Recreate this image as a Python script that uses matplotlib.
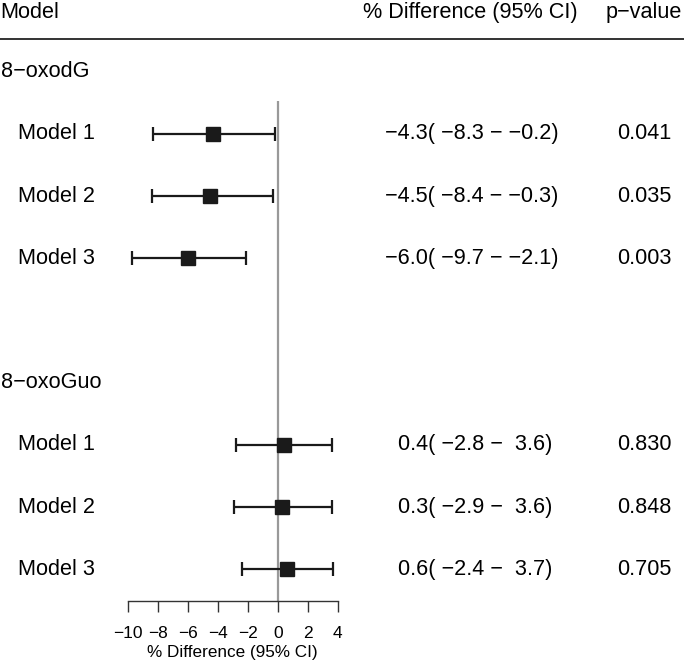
import matplotlib
matplotlib.use("Agg")
import matplotlib.pyplot as plt
import matplotlib.transforms as mtransforms

plt.rcParams['font.family'] = ['Liberation Sans', 'DejaVu Sans']

# ---- data ----
groups = ["8−oxodG", "8−oxoGuo"]
models = ["Model 1", "Model 2", "Model 3"]
est = [[-4.3, -4.5, -6.0], [0.4, 0.3, 0.6]]
lower = [[-8.3, -8.4, -9.7], [-2.8, -2.9, -2.4]]
upper = [[-0.2, -0.3, -2.1], [3.6, 3.6, 3.7]]
pvals = [["0.041", "0.035", "0.003"], ["0.830", "0.848", "0.705"]]
xticks = [-10, -8, -6, -4, -2, 0, 2, 4]
header = ["Model", "% Difference (95% CI)", "p−value"]
xlabel = "% Difference (95% CI)"

W, H = 684, 664
fig = plt.figure(figsize=(W / 100, H / 100), dpi=100)

def fx(px):
    return px / W

def fy(py):
    return 1 - py / H

# row k at pixel 9.5 + 62.2*k
p0, dp = 9.5, 62.2
top_px, bot_px = 101, 600.7
x_left_px, x_right_px = 127.7, 337.7
ax = fig.add_axes([fx(x_left_px), fy(bot_px), (x_right_px - x_left_px) / W,
                   (bot_px - top_px) / H])
ax.set_xlim(-10, 4)
ax.set_ylim((bot_px - p0) / dp, (top_px - p0) / dp)

for s in ["top", "right", "left"]:
    ax.spines[s].set_visible(False)
ax.spines["bottom"].set_color("#333333")
ax.spines["bottom"].set_linewidth(1.0)
ax.set_yticks([])
ax.set_xticks(xticks)
ax.set_xticklabels([str(t).replace("-", "−") for t in xticks])
ax.tick_params(axis="x", direction="out", length=8, width=1.0, color="#333333",
               pad=10, labelsize=12.5)
ax.set_xlabel(xlabel, fontsize=12.3, labelpad=3)

ax.axvline(0, color="#999999", lw=1.6, zorder=1)

blend = mtransforms.blended_transform_factory(fig.transFigure, ax.transData)
fs = 15.6

def rowpx(py):
    return (py - p0) / dp

# header
hy = rowpx(12.5)
ax.text(fx(0.5), hy, header[0], transform=blend, ha="left", va="center", fontsize=fs, clip_on=False)
ax.text(fx(470.5), hy, header[1], transform=blend, ha="center", va="center", fontsize=fs, clip_on=False)
ax.text(fx(644), hy, header[2], transform=blend, ha="center", va="center", fontsize=fs, clip_on=False)
ax.plot([0, 1], [rowpx(39)] * 2, transform=blend, color="#333333", lw=1.4, clip_on=False)

def fmt(v):
    return f"{v:4.1f}".replace("-", "−")

row = 1
for g, gname in enumerate(groups):
    ax.text(fx(0.5), row, gname, transform=blend, ha="left", va="center", fontsize=fs, clip_on=False)
    row += 1
    for m, mname in enumerate(models):
        e, lo, hi = est[g][m], lower[g][m], upper[g][m]
        ax.errorbar([e], [row], xerr=[[e - lo], [hi - e]], fmt="s", color="#1a1a1a",
                    ecolor="#1a1a1a", elinewidth=1.6, capsize=5, capthick=1.6,
                    markersize=9.8, zorder=3)
        ax.text(fx(18.5), row, mname, transform=blend, ha="left", va="center", fontsize=fs, clip_on=False)
        ci = f"{fmt(e)}( {fmt(lo)} − {fmt(hi)})"
        ax.text(fx(472), row, ci, transform=blend, ha="center", va="center", fontsize=fs, clip_on=False)
        ax.text(fx(644), row, pvals[g][m], transform=blend, ha="center", va="center", fontsize=fs, clip_on=False)
        row += 1
    row += 1

fig.savefig("out.png", dpi=100)
